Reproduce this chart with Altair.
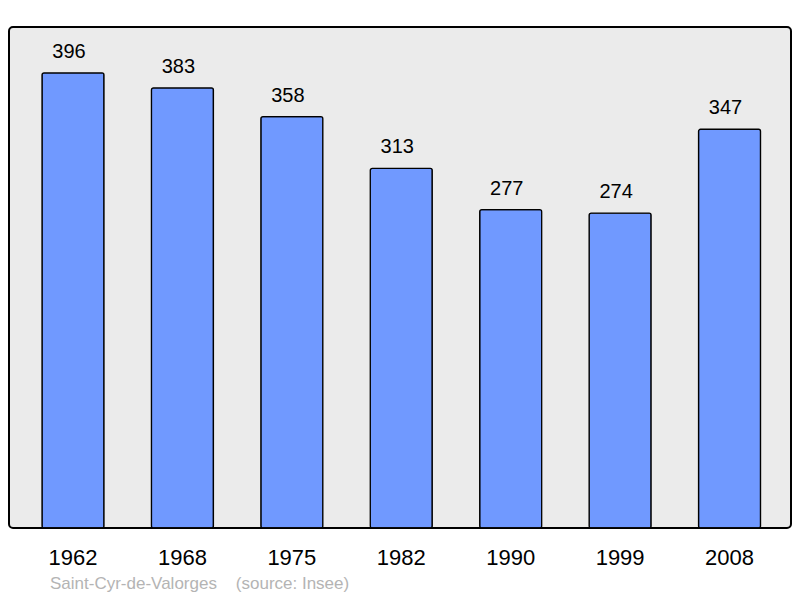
import altair as alt
import pandas as pd

years = ["1962", "1968", "1975", "1982", "1990", "1999", "2008"]
population = [396, 383, 358, 313, 277, 274, 347]
caption = "Saint-Cyr-de-Valorges\u00a0\u00a0\u00a0\u00a0(source: Insee)"

df = pd.DataFrame({"year": years, "pop": population})

FONT = "Liberation Sans"

x = alt.X("year:N", sort=years, title=None,
          scale=alt.Scale(paddingInner=0.4334, paddingOuter=0.29, align=0.52),
          axis=alt.Axis(labelFontSize=22, labelFont=FONT, labelColor="black",
                        labelAngle=0, ticks=False, tickSize=0, domain=False,
                        labelBaseline="alphabetic", labelPadding=36, grid=False))
y = alt.Y("pop:Q", title=None, scale=alt.Scale(domain=[0, 436], nice=False, zero=True),
          axis=None)

base = alt.Chart(df)

bars = base.mark_bar(fill="#7099ff", stroke="black", strokeWidth=1.3,
                     cornerRadius=2).encode(x=x, y=y)

labels = base.mark_text(fontSize=20, font=FONT, color="black",
                        baseline="alphabetic", dy=-15, dx=-4).encode(
    x=x, y=y, text=alt.Text("pop:Q"))

cap = alt.Chart(pd.DataFrame({"t": [caption]})).mark_text(
    fontSize=17, font=FONT, color="#b4b4b4", align="left",
    baseline="alphabetic").encode(
    x=alt.value(41), y=alt.value(562), text="t:N")

chart = alt.layer(bars, labels, cap).properties(
    width=782, height=501,
    autosize=alt.AutoSizeParams(type="none"),
    padding={"left": 1, "top": 19, "right": 1, "bottom": 67},
    background="white",
).configure_view(
    fill="#ebebeb", stroke="black", strokeWidth=2, cornerRadius=4
)

chart.save("out.html", embed_options={"renderer": "svg", "actions": False})
